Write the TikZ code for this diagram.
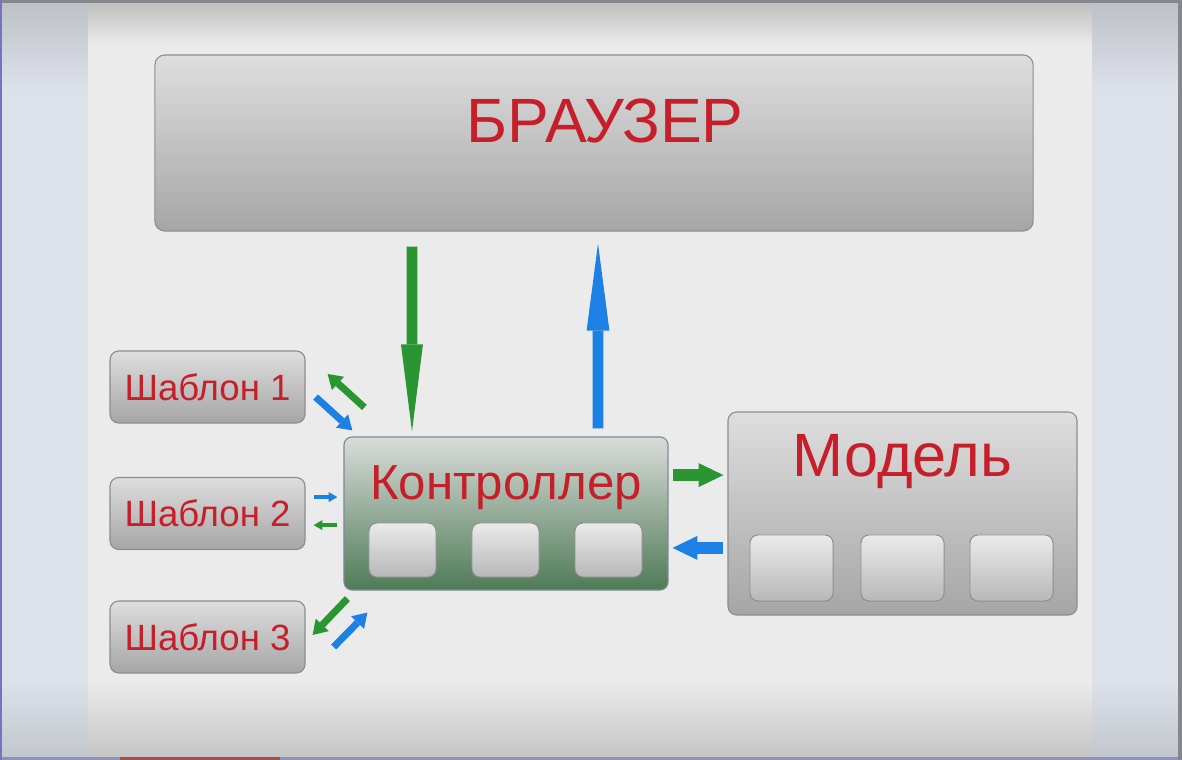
\documentclass[tikz,border=0pt]{standalone}
\usepackage{fontspec}
\setmainfont{Liberation Sans}
\usetikzlibrary{arrows.meta,positioning,calc}

\definecolor{txtred}{HTML}{C61F29}
\definecolor{grn}{HTML}{2A9632}
\definecolor{blu}{HTML}{1C80E4}
\definecolor{boxline}{HTML}{8E8E8E}
\definecolor{stripc}{HTML}{DDE1E9}
\definecolor{slidebg}{HTML}{EBEBEB}
\definecolor{ctrltop}{HTML}{DADCDA}
\definecolor{ctrlmid}{HTML}{97B49B}
\definecolor{ctrlbot}{HTML}{4F7B56}
\definecolor{ctrlline}{HTML}{7D8A99}

\tikzset{
  graybox/.style={draw=boxline, line width=0.8pt, rounded corners=0.25cm, inner sep=0pt,
    top color=black!13, bottom color=black!35},
  ctrlbox/.style={draw=ctrlline, line width=0.8pt, rounded corners=0.2cm, inner sep=0pt,
    top color=ctrltop, middle color=ctrlmid, bottom color=ctrlbot},
  slot/.style={draw=boxline, line width=0.7pt, rounded corners=0.2cm, inner sep=0pt,
    top color=black!8, bottom color=black!28},
  tpl/.style={graybox, rounded corners=0.22cm, minimum width=4.875cm, minimum height=1.8cm,
    text=txtred, font=\fontsize{26}{30}\selectfont},
  title/.style={text=txtred, anchor=base, inner sep=0pt},
  bigg/.style={draw=grn, line width=7.6pt, -{Triangle[length=2.175cm,width=0.55cm,line width=0pt]}},
  bigb/.style={draw=blu, line width=7.6pt, -{Triangle[length=2.175cm,width=0.57cm,line width=0pt]}},
  midg/.style={draw=grn, line width=8.5pt, -{Triangle[length=0.62cm,width=0.6cm,line width=0pt]}},
  midb/.style={draw=blu, line width=8.5pt, -{Triangle[length=0.62cm,width=0.6cm,line width=0pt]}},
  smg/.style={draw=grn, line width=5pt, -{Triangle[length=0.35cm,width=0.45cm,line width=0pt]}},
  smb/.style={draw=blu, line width=5pt, -{Triangle[length=0.35cm,width=0.45cm,line width=0pt]}},
  tinyg/.style={draw=grn, line width=2.3pt, -{Triangle[length=0.22cm,width=0.25cm,line width=0pt]}},
  tinyb/.style={draw=blu, line width=2.3pt, -{Triangle[length=0.22cm,width=0.25cm,line width=0pt]}}
}

\begin{document}
\begin{tikzpicture}[x=0.025cm,y=-0.025cm]
	% screen background
	\fill[stripc] (0,0) rectangle (1182,760);
	\shade[top color=black!15!stripc, bottom color=stripc] (0,0) rectangle (88,90);
	\shade[top color=black!15!stripc, bottom color=stripc] (1092,0) rectangle (1182,90);
	\shade[top color=stripc, bottom color=black!12!stripc] (0,680) rectangle (88,757);
	\shade[top color=stripc, bottom color=black!12!stripc] (1092,680) rectangle (1182,757);
	\fill[slidebg] (88,0) rectangle (1092,760);
	\shade[top color=black!20!slidebg, bottom color=slidebg] (88,0) rectangle (1092,45);
	\shade[top color=slidebg, bottom color=black!16!slidebg] (88,680) rectangle (1092,757);
	\fill[black!40!stripc] (0,0) rectangle (1182,3);
	\fill[blue!25!gray!70] (0,757) rectangle (1182,760);
	\fill[red!50!black!70] (120,757) rectangle (280,760);
	\fill[blue!35!gray!80] (0,0) rectangle (2,760);
	\fill[black!40!stripc] (1178,0) rectangle (1182,760);

	\node[graybox, minimum width=21.95cm, minimum height=4.4cm] (browser) at (594,143) {};
	\node[title, font=\fontsize{44.5}{50}\selectfont] (browserlbl) at ([xshift=0.275cm,yshift=-2.2cm]browser.north) {БРАУЗЕР};

	\node[ctrlbox, minimum width=8.1cm, minimum height=3.825cm] (ctrl) at (506,513.5) {};
	\node[title, font=\fontsize{35}{40}\selectfont] (ctrllbl) at ([yshift=-1.575cm]ctrl.north) {Контроллер};
	\node[slot, minimum width=1.675cm, minimum height=1.35cm] (c1) at (402.5,550) {};
	\node[slot, minimum width=1.675cm, minimum height=1.35cm] (c2) at (505.5,550) {};
	\node[slot, minimum width=1.675cm, minimum height=1.35cm] (c3) at (608.5,550) {};

	\node[graybox, rounded corners=0.22cm, minimum width=8.725cm, minimum height=5.075cm] (model) at (902.5,513.5) {};
	\node[title, font=\fontsize{43.5}{48}\selectfont] (modellbl) at ([yshift=-1.625cm]model.north) {Модель};
	\node[slot, minimum width=2.075cm, minimum height=1.65cm] (m1) at (791.5,568) {};
	\node[slot, minimum width=2.075cm, minimum height=1.65cm] (m2) at (902.5,568) {};
	\node[slot, minimum width=2.075cm, minimum height=1.65cm] (m3) at (1011.5,568) {};

	\node[tpl] (s1) at (207.5,387) {Шаблон 1};
	\node[tpl] (s2) at (207.5,513.5) {Шаблон 2};
	\node[tpl] (s3) at (207.5,637) {Шаблон 3};

	\draw[bigg] ([xshift=-4.55cm,yshift=-0.375cm]browser.south) -- ([xshift=-2.35cm,yshift=0.125cm]ctrl.north);
	\draw[bigb] ([xshift=2.3cm,yshift=0.2cm]ctrl.north) -- ([xshift=0.1cm,yshift=-0.3cm]browser.south);

	\draw[midg] ([xshift=0.1cm,yshift=0.96cm]ctrl.east) -- ([xshift=-0.1cm,yshift=0.96cm]model.west);
	\draw[midb] ([xshift=-0.1cm,yshift=-0.86cm]model.west) -- ([xshift=0.1cm,yshift=-0.86cm]ctrl.east);

	\draw[smb] ([xshift=0.25cm,yshift=-0.25cm]s1.east) -- ([xshift=0.225cm,yshift=0.15cm]ctrl.north west);
	\draw[smg] ([xshift=0.525cm,yshift=0.725cm]ctrl.north west) -- ([xshift=0.55cm,yshift=0.325cm]s1.east);

	\draw[tinyb] ([xshift=0.2cm,yshift=0.41cm]s2.east) -- ([xshift=-0.15cm,yshift=0.41cm]ctrl.west);
	\draw[tinyg] ([xshift=-0.15cm,yshift=-0.29cm]ctrl.west) -- ([xshift=0.2cm,yshift=-0.29cm]s2.east);

	\draw[smg] ([xshift=0.1cm,yshift=-0.2cm]ctrl.south west) -- ([xshift=0.175cm,yshift=0.05cm]s3.east);
	\draw[smb] ([xshift=0.7cm,yshift=-0.25cm]s3.east) -- ([xshift=0.6cm,yshift=-0.55cm]ctrl.south west);
\end{tikzpicture}
\end{document}
